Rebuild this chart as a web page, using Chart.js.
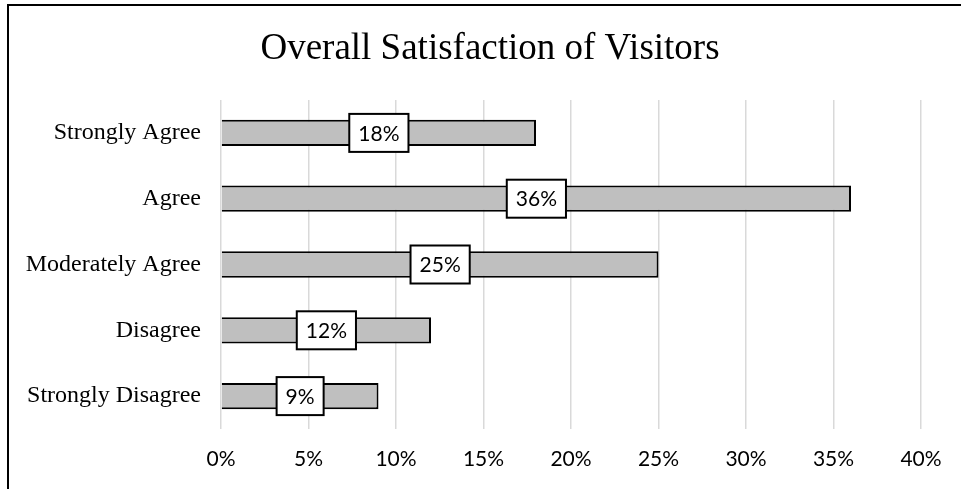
<!DOCTYPE html>
<html>
<head>
<meta charset="utf-8">
<script src="https://cdn.jsdelivr.net/npm/chart.js@4"></script>
<style>
  html, body { margin: 0; padding: 0; background: #fff; overflow: hidden; }
  #wrap { position: relative; width: 961px; height: 489px; }
  #frame { position: absolute; left: 7px; top: 4px; width: 1000px; height: 520px;
           border-left: 2px solid #000; border-top: 2px solid #000; pointer-events: none; }
</style>
</head>
<body>
<div id="wrap">
  <canvas id="myChart"></canvas>
  <div id="frame"></div>
</div>
<script>
const chartTitle = 'Overall Satisfaction of Visitors';
const categories = ['Strongly Agree', 'Agree', 'Moderately Agree', 'Disagree', 'Strongly Disagree'];
const percents = [18, 36, 25, 12, 9];
const xTicks = [0, 5, 10, 15, 20, 25, 30, 35, 40];

// titolo disegnato a mano, centrato come nell'originale
const titlePlugin = {
    id: 'customTitle',
    afterDraw(chart) {
        const ctx = chart.ctx;
        ctx.save();
        ctx.font = '37px "Liberation Serif", "Times New Roman", serif';
        ctx.fillStyle = '#000';
        ctx.textAlign = 'center';
        ctx.textBaseline = 'alphabetic';
        ctx.fillText(chartTitle, 490, 59);
        ctx.restore();
    }
};

// etichette bianche con bordo nero al centro di ogni barra
const boxLabels = {
    id: 'boxLabels',
    afterDatasetsDraw(chart) {
        const ctx = chart.ctx;
        const meta = chart.getDatasetMeta(0);
        ctx.save();
        ctx.font = '21px Lato, sans-serif';
        ctx.textAlign = 'center';
        ctx.textBaseline = 'middle';
        meta.data.forEach((bar, i) => {
            const text = percents[i] + '%';
            const cx = (bar.x + bar.base) / 2;
            const cy = bar.y;
            const w = ctx.measureText(text).width + 18;
            const h = 38;
            ctx.fillStyle = '#fff';
            ctx.fillRect(cx - w / 2, cy - h / 2, w, h);
            ctx.lineWidth = 2;
            ctx.strokeStyle = '#000';
            ctx.strokeRect(cx - w / 2, cy - h / 2, w, h);
            ctx.fillStyle = '#000';
            ctx.fillText(text, cx, cy + 1);
        });
        ctx.restore();
    }
};

const ctx = document.getElementById('myChart').getContext('2d');
new Chart(ctx, {
    type: 'bar',
    data: {
        labels: categories,
        datasets: [{
            data: percents,
            backgroundColor: '#bfbfbf',
            borderColor: '#000',
            borderWidth: 2,
            categoryPercentage: 0.8,
            barPercentage: 0.5
        }]
    },
    options: {
        indexAxis: 'y',
        responsive: true,
        maintainAspectRatio: false,
        animation: false,
        layout: { padding: { top: 100, right: 40, left: 0, bottom: 0 } },
        plugins: {
            legend: { display: false },
            title: { display: false },
            tooltip: { enabled: false }
        },
        scales: {
            x: {
                min: 0,
                max: 40,
                afterBuildTicks: scale => { scale.ticks = xTicks.map(v => ({ value: v })); },
                afterFit: scale => { scale.height = 60; },
                grid: { color: '#d9d9d9', lineWidth: 1.5, drawTicks: false },
                border: { display: false },
                ticks: {
                    padding: 18,
                    color: '#000',
                    font: { family: 'Lato', size: 21 },
                    callback: v => v + '%'
                }
            },
            y: {
                afterFit: scale => { scale.width = 221; },
                grid: { display: false, drawTicks: false },
                border: { display: false },
                ticks: {
                    padding: 20,
                    color: '#000',
                    font: { family: '"Liberation Serif", "Times New Roman", serif', size: 24 }
                }
            }
        }
    },
    plugins: [titlePlugin, boxLabels]
});
</script>
</body>
</html>
